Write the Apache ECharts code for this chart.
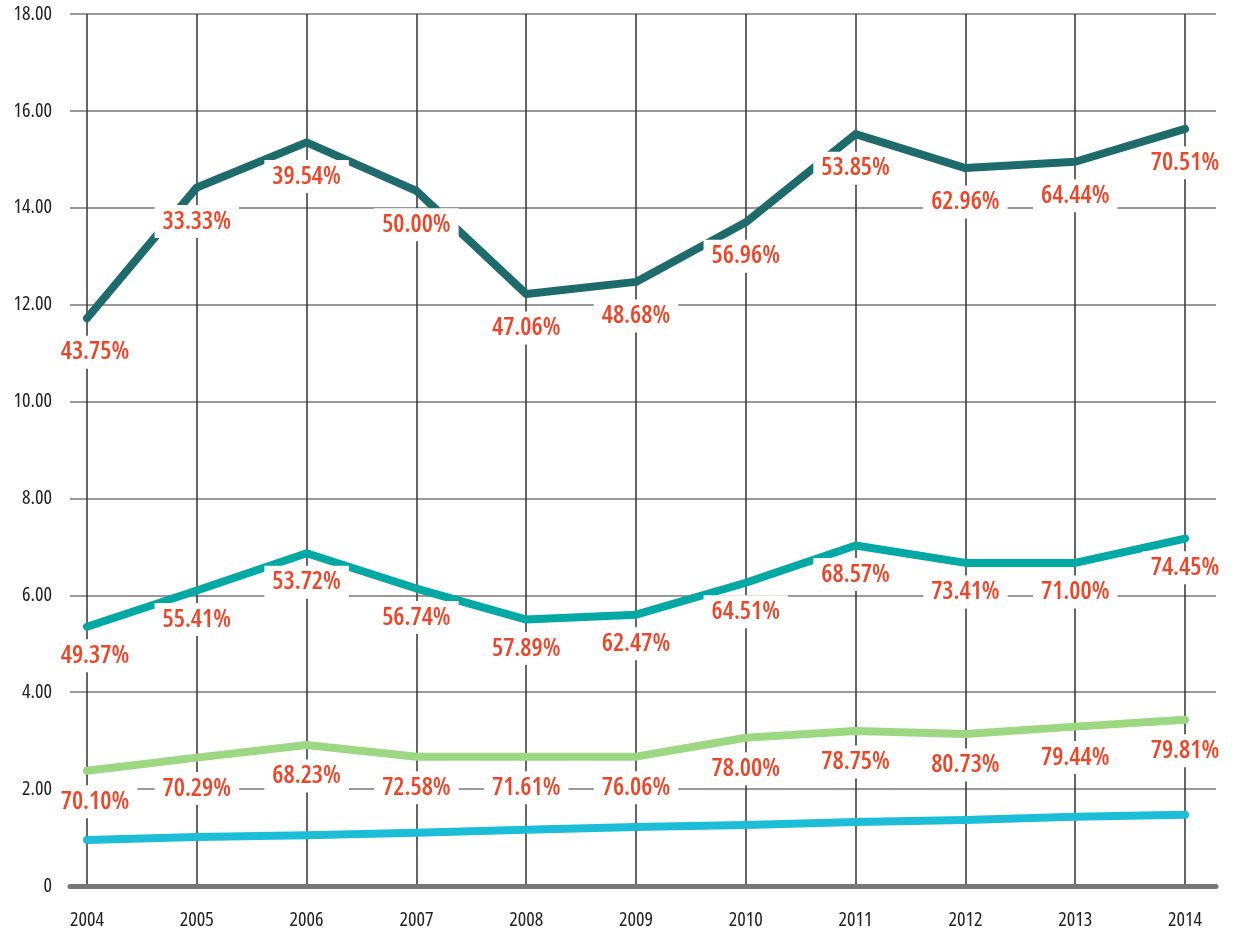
<!DOCTYPE html>
<html><head><meta charset="utf-8">
<script src="https://cdn.jsdelivr.net/npm/echarts@6/dist/echarts.min.js"></script>
<style>html,body{margin:0;padding:0;background:#fff}#c{width:1234px;height:930px}</style>
</head><body><div id="c"></div>
<script>
var years = ['2004','2005','2006','2007','2008','2009','2010','2011','2012','2013','2014'];
var yTicks = ['0','2.00','4.00','6.00','8.00','10.00','12.00','14.00','16.00','18.00'];
var darkValues  = [11.72, 14.42, 15.35, 14.35, 12.22, 12.47, 13.7, 15.52, 14.82, 14.95, 15.63];
var darkPct     = ['43.75%','33.33%','39.54%','50.00%','47.06%','48.68%','56.96%','53.85%','62.96%','64.44%','70.51%'];
var tealValues  = [5.35, 6.1, 6.87, 6.14, 5.5, 5.6, 6.26, 7.03, 6.67, 6.67, 7.17];
var tealPct     = ['49.37%','55.41%','53.72%','56.74%','57.89%','62.47%','64.51%','68.57%','73.41%','71.00%','74.45%'];
var greenValues = [2.38, 2.65, 2.91, 2.67, 2.67, 2.67, 3.06, 3.2, 3.14, 3.29, 3.43];
var greenPct    = ['70.10%','70.29%','68.23%','72.58%','71.61%','76.06%','78.00%','78.75%','80.73%','79.44%','79.81%'];
var cyanValues  = [0.95, 1.01, 1.05, 1.1, 1.16, 1.22, 1.26, 1.32, 1.36, 1.43, 1.47];

var FONT = '"Open Sans","DejaVu Sans Condensed",sans-serif';
function mkLabel(pcts, dy) {
  return {
    show: true, position: 'inside', offset: [0, dy],
    formatter: function (p) { return pcts[p.dataIndex]; },
    color: '#ef4426', fontFamily: FONT, fontStyle: 'condensed', fontWeight: 600, fontSize: 25,
    backgroundColor: '#fff', padding: [4, 8]
  };
}
function mkSeries(vals, color, pcts, dy, z) {
  var s = {
    type: 'line', xAxisIndex: 0, yAxisIndex: 0,
    data: vals.map(function (v, i) {
      // first label nudged right so it clears the y-axis tick labels
      return (pcts && i === 0) ? { value: v, label: { offset: [8, dy] } } : v;
    }),
    symbol: 'circle', symbolSize: 2, showSymbol: true,
    itemStyle: { color: color },
    lineStyle: { color: color, width: 8, cap: 'round', join: 'round' },
    animation: false, z: z
  };
  s.label = pcts ? mkLabel(pcts, dy) : { show: false };
  return s;
}
var axisFont = { color: '#222', fontFamily: FONT, fontStyle: 'condensed', fontWeight: 400, fontSize: 20 };
var chart = echarts.init(document.getElementById('c'));
chart.setOption({
  animation: false,
  grid: [
    { left: 87, right: 49, top: 14, bottom: 44 },
    { left: 70, right: 18, top: 14, bottom: 44 }
  ],
  xAxis: [
    { type: 'category', gridIndex: 0, data: years, boundaryGap: false,
      axisLine: { show: false }, axisTick: { show: false },
      axisLabel: Object.assign({ margin: 24 }, axisFont),
      splitLine: { show: true, interval: 0, lineStyle: { color: '#333', width: 1.5 } } },
    { type: 'value', gridIndex: 1, min: 0, max: 1,
      axisLine: { show: true, onZero: false, lineStyle: { color: '#777', width: 5 } },
      axisTick: { show: false }, axisLabel: { show: false }, splitLine: { show: false } }
  ],
  yAxis: [
    { type: 'value', gridIndex: 0, min: 0, max: 18, interval: 2,
      axisLine: { show: false }, axisTick: { show: false }, axisLabel: { show: false },
      splitLine: { show: false } },
    { type: 'value', gridIndex: 1, min: 0, max: 18, interval: 2,
      axisLine: { show: false }, axisTick: { show: false },
      axisLabel: Object.assign({ margin: 18,
        formatter: function (v) { return yTicks[Math.round(v / 2)]; } }, axisFont),
      splitLine: { show: true, lineStyle: { color: '#777', width: 1.5 } } }
  ],
  series: [
    mkSeries(cyanValues, '#1cbdd6', null, 0, 3),
    mkSeries(greenValues, '#9bd881', greenPct, 31, 4),
    mkSeries(tealValues, '#00a9a3', tealPct, 29, 5),
    mkSeries(darkValues, '#1d6b6a', darkPct, 34, 6)
  ]
});
</script></body></html>
